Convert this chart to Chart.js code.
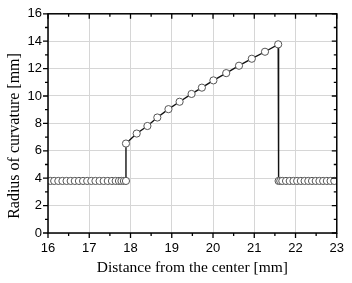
<!DOCTYPE html>
<html>
<head>
<meta charset="utf-8">
<script src="https://cdn.jsdelivr.net/npm/chart.js@4/dist/chart.umd.min.js"></script>
<style>
  html, body { margin: 0; padding: 0; background: #fff; }
  #wrap { width: 352px; height: 283px; position: relative; }
</style>
</head>
<body>
<div id="wrap"><canvas id="c" width="352" height="283"></canvas></div>
<script>
// ---- data ----
const leftX  = [16.06,16.15,16.25,16.35,16.45,16.55,16.65,16.75,16.85,16.95,17.05,17.15,17.25,17.35,17.45,17.55,17.64,17.72,17.78,17.84,17.89];
const leftY  = [3.8,3.8,3.8,3.8,3.8,3.8,3.8,3.8,3.8,3.8,3.8,3.8,3.8,3.8,3.8,3.8,3.8,3.8,3.8,3.8,3.8];
const riseX  = [17.89,18.15,18.41,18.65,18.92,19.19,19.48,19.73,20.01,20.32,20.63,20.94,21.26,21.58];
const riseY  = [6.53,7.26,7.81,8.43,9.04,9.58,10.15,10.61,11.14,11.67,12.21,12.72,13.23,13.77];
const rightX = [21.59,21.63,21.68,21.77,21.86,21.95,22.04,22.13,22.22,22.31,22.40,22.49,22.58,22.67,22.76,22.85,22.94];
const rightY = [3.8,3.8,3.8,3.8,3.8,3.8,3.8,3.8,3.8,3.8,3.8,3.8,3.8,3.8,3.8,3.8,3.8];
const xTicks = [16,17,18,19,20,21,22,23];
const yTicks = [0,2,4,6,8,10,12,14,16];
const xTitle = 'Distance from the center [mm]';
const yTitle = 'Radius of curvature [mm]';

const allX = leftX.concat(riseX, rightX);
const allY = leftY.concat(riseY, rightY);
const points = allX.map((x, i) => ({ x: x, y: allY[i] }));

const framePlugin = {
  id: 'frame',
  afterDraw(chart) {
    const ctx = chart.ctx;
    const a = chart.chartArea;
    const xs = chart.scales.x, ys = chart.scales.y;
    ctx.save();
    ctx.strokeStyle = '#000';
    ctx.lineWidth = 1.3;
    const major = 5, minor = 3;
    ctx.beginPath();
    for (let i = 0; i < xTicks.length; i++) {
      const px = xs.getPixelForValue(xTicks[i]);
      ctx.moveTo(px, a.bottom); ctx.lineTo(px, a.bottom + major);
      ctx.moveTo(px, a.top); ctx.lineTo(px, a.top + major);
      if (i < xTicks.length - 1) {
        const pm = xs.getPixelForValue((xTicks[i] + xTicks[i + 1]) / 2);
        ctx.moveTo(pm, a.bottom); ctx.lineTo(pm, a.bottom + minor);
        ctx.moveTo(pm, a.top); ctx.lineTo(pm, a.top + minor);
      }
    }
    for (let i = 0; i < yTicks.length; i++) {
      const py = ys.getPixelForValue(yTicks[i]);
      ctx.moveTo(a.left, py); ctx.lineTo(a.left - major, py);
      ctx.moveTo(a.right, py); ctx.lineTo(a.right - major, py);
      if (i < yTicks.length - 1) {
        const pm = ys.getPixelForValue((yTicks[i] + yTicks[i + 1]) / 2);
        ctx.moveTo(a.left, pm); ctx.lineTo(a.left - minor, pm);
        ctx.moveTo(a.right, pm); ctx.lineTo(a.right - minor, pm);
      }
    }
    ctx.stroke();
    ctx.lineWidth = 1.5;
    ctx.strokeRect(a.left, a.top, a.right - a.left, a.bottom - a.top);
    // y axis title (placed slightly below plot centre, as in the reference)
    ctx.fillStyle = '#000';
    ctx.font = '16px "Liberation Serif", "Times New Roman", serif';
    ctx.textAlign = 'center';
    ctx.textBaseline = 'middle';
    ctx.translate(15, 136);
    ctx.rotate(-Math.PI / 2);
    ctx.fillText(yTitle, 0, 0);
    ctx.restore();
  }
};

new Chart(document.getElementById('c'), {
  type: 'scatter',
  data: {
    datasets: [{
      data: points,
      showLine: true,
      borderColor: '#111',
      borderWidth: 1.4,
      pointRadius: 3.6,
      pointBorderWidth: 1,
      pointBorderColor: '#555',
      pointBackgroundColor: '#fff',
      tension: 0
    }]
  },
  options: {
    responsive: false,
    animation: false,
    devicePixelRatio: 1,
    layout: { padding: { top: 13, right: 13, left: 0, bottom: 0 } },
    plugins: { legend: { display: false }, tooltip: { enabled: false } },
    scales: {
      x: {
        type: 'linear', min: 16, max: 23,
        afterBuildTicks(s) { s.ticks = xTicks.map(v => ({ value: v })); },
        afterFit(s) { s.height = 50; },
        grid: { color: '#d6d6d6', lineWidth: 1, drawTicks: false },
        border: { display: false },
        ticks: { color: '#000', padding: 8, font: { family: 'Liberation Sans, Arial', size: 13 } },
        title: { display: true, text: xTitle, color: '#000', padding: { top: 0, bottom: 6 },
                 font: { family: 'Liberation Serif, Times New Roman', size: 15.5 } }
      },
      y: {
        type: 'linear', min: 0, max: 16,
        afterBuildTicks(s) { s.ticks = yTicks.map(v => ({ value: v })); },
        afterFit(s) { s.width = 48; },
        grid: { color: '#d6d6d6', lineWidth: 1, drawTicks: false },
        border: { display: false },
        ticks: { color: '#000', padding: 6, font: { family: 'Liberation Sans, Arial', size: 13 } },
        title: { display: false, text: yTitle }
      }
    }
  },
  plugins: [framePlugin]
});
</script>
</body>
</html>
